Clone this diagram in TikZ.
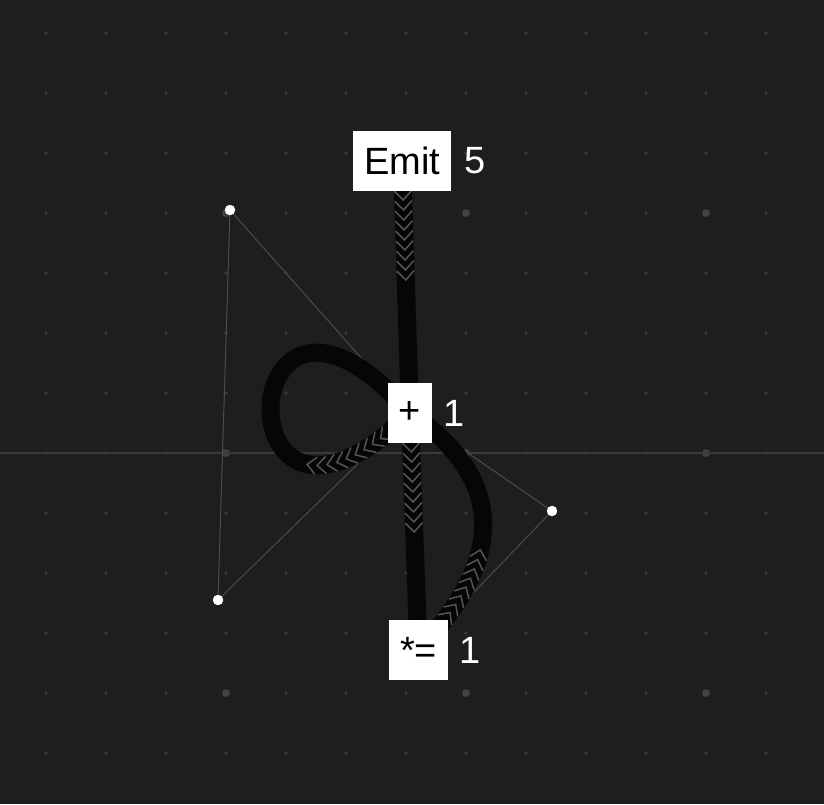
\documentclass[tikz,border=0pt]{standalone}
\usepackage{fontspec}
\setmainfont{Liberation Sans}
\usetikzlibrary{positioning,calc,decorations.markings}
\definecolor{canvas}{HTML}{1E1E1E}
\definecolor{griddot}{HTML}{3C3C3C}
\definecolor{gridbig}{HTML}{424242}
\definecolor{axisgrey}{HTML}{3A3A3A}
\definecolor{handlegrey}{HTML}{4C4C4C}
\definecolor{chevgrey}{HTML}{555555}
\definecolor{wireblack}{HTML}{060606}

\tikzset{
	opbox/.style={fill=white, text=black, minimum height=60pt, inner xsep=11pt, inner ysep=0pt, font=\fontsize{38}{44}\selectfont},
	val/.style={text=white, inner sep=0pt, font=\fontsize{38}{44}\selectfont},
	wire/.style={draw=wireblack, line width=18pt, postaction={decorate},
		decoration={markings, mark=between positions 36pt and 120pt step 10pt with
			{\draw[chevgrey, line width=1.5pt] (-6pt,-8.5pt) -- (3pt,0pt) -- (-6pt,8.5pt);}}},
	handleline/.style={draw=handlegrey, line width=1pt}
}

\begin{document}
\begin{tikzpicture}[x=1pt, y=-1pt]
	\fill[canvas] (0,0) rectangle (824,804);
	\useasboundingbox (0,0) rectangle (824,804);
	\foreach \x in {46,106,...,766}
		\foreach \y in {33,93,...,753}
			\fill[griddot] (\x,\y) circle (1.8pt);
	\foreach \x in {226,466,706}
		\foreach \y in {213,453,693}
			\fill[gridbig] (\x,\y) circle (4pt);
	\draw[axisgrey, line width=1.4pt] (0,453) -- (824,453);

	\coordinate (ca) at (230,210);
	\coordinate (cb) at (218,600);
	\coordinate (cc) at (552,511);
	\coordinate (emitc) at (402,161);
	\coordinate (plusc) at (410,413);
	\coordinate (mulc) at (418.5,650);

	\draw[handleline] (ca) -- (cb);
	\draw[handleline] (ca) -- (plusc);
	\draw[handleline] (cb) -- (plusc);
	\draw[handleline] (cc) -- (plusc);
	\draw[handleline] (cc) -- (mulc);

	\path[wire] (emitc) -- (plusc);
	\path[wire] (plusc) -- (mulc);
	\path[wire] (plusc) .. controls (cb) and (ca) .. (plusc);
	\path[wire] (mulc) .. controls ($(mulc)!2/3!(cc)$) and ($(plusc)!2/3!(cc)$) .. (plusc);

	\node[opbox] (emit) at (emitc) {Emit};
	\node[val, right=13pt of emit] (emitval) {5};
	\node[opbox] (plus) at (plusc) {+};
	\node[val, right=11pt of plus] (plusval) {1};
	\node[opbox] (mul) at (mulc) {*=};
	\node[val, right=11pt of mul] (mulval) {1};

	\filldraw[white]
			(ca) circle (5pt)
			(cb) circle (5pt)
			(cc) circle (5pt);
\end{tikzpicture}
\end{document}
